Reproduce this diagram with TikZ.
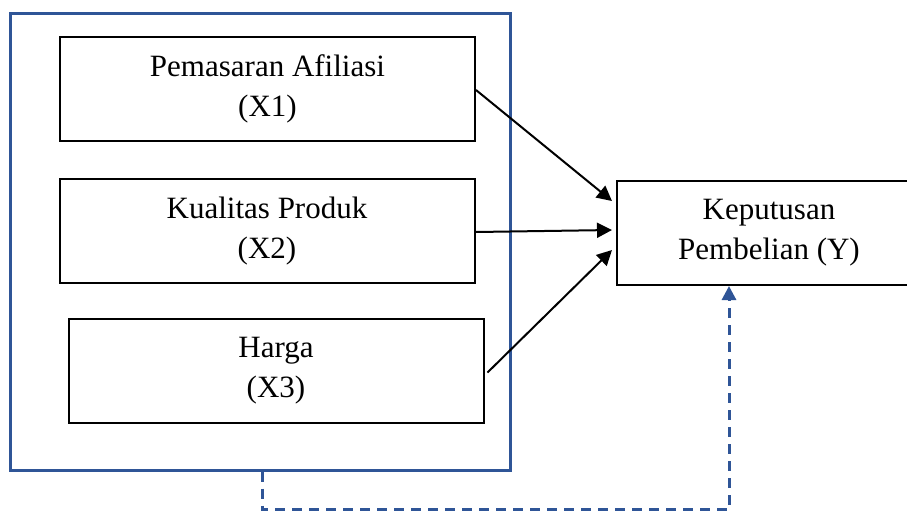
\documentclass[tikz,border=0pt]{standalone}
\usepackage{fontspec}
\setmainfont{Liberation Serif}
\usepackage {tikz}
\usetikzlibrary {positioning}
\usetikzlibrary{calc}
\usetikzlibrary{arrows.meta}
\definecolor{groupblue}{RGB}{47,85,151}
\tikzset{
    varbox/.style = {rectangle,draw,line width=1pt,minimum width=207.5pt,minimum height=52pt,inner sep=0pt,align=center,font=\fontsize{15.5}{20}\selectfont},
    outcomebox/.style = {varbox,minimum width=152pt},
    groupframe/.style = {rectangle,draw=groupblue,line width=1.5pt,minimum width=250pt,minimum height=228.5pt},
    influence/.style = {-{Triangle[length=7.5pt,width=7.5pt]},line width=1pt},
    jointpath/.style = {-{Triangle[length=7pt,width=7pt]},draw=groupblue,line width=1.5pt,dash pattern=on 5pt off 3.5pt}}
\begin{document}
\begin{tikzpicture}[x=0.5pt,y=-0.5pt]
        \useasboundingbox (0,0) rectangle (907,511);
        \path (260,241.5) node[groupframe] (G) {}
        (267.5,89) node[varbox] (X1) {Pemasaran Afiliasi\\(X1)}
        (267,231) node[varbox] (X2) {Kualitas Produk\\(X2)}
        (276,370.5) node[varbox] (X3) {Harga\\(X3)}
        (769,233) node[outcomebox] (Y) {Keputusan\\Pembelian (Y)};
        \draw[influence] ($(X1.east)+(0,1)$) -- ($(Y.west)+(-4,-32)$);
        \draw[influence] ($(X2.east)+(0,1)$) -- ($(Y.west)+(-4,-3)$);
        \draw[influence] ($(X3.east)+(3,2)$) -- ($(Y.west)+(-4,17)$);
        \draw[jointpath] ($(G.south)+(2,0)$) -- ++(0,38) -| ($(Y.south)+(-40,0)$);
    \end{tikzpicture}
\end{document}
